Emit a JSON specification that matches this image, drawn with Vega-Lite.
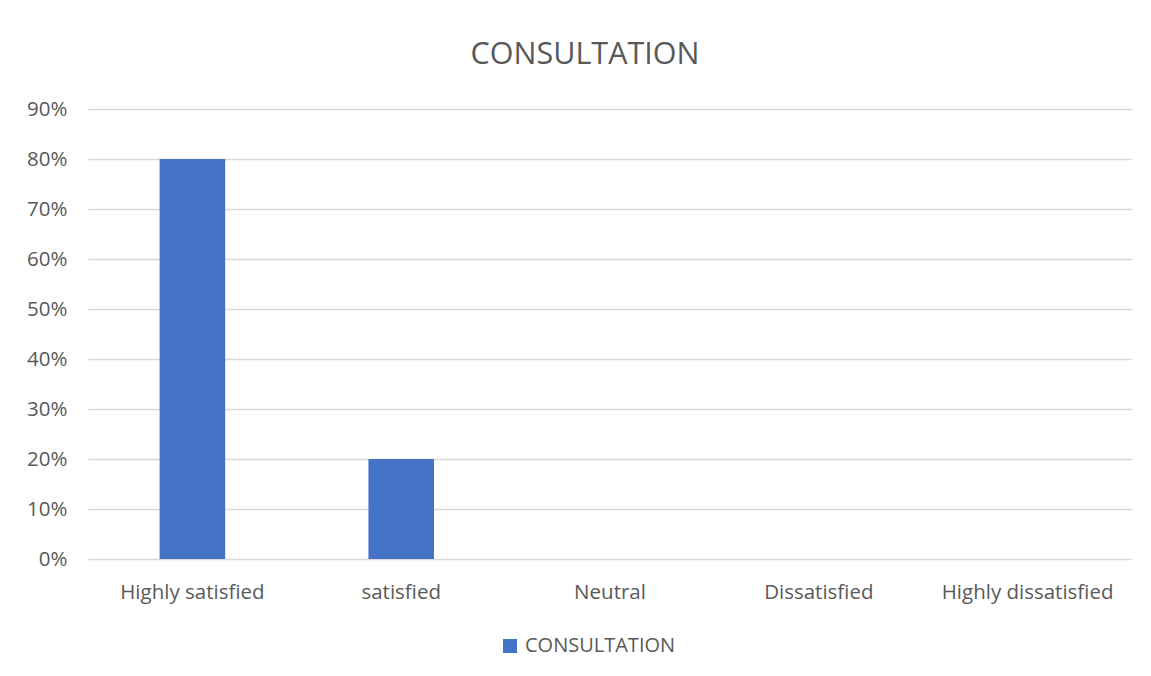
{
  "$schema": "https://vega.github.io/schema/vega-lite/v6.json",
  "autosize": "none",
  "width": 1044,
  "height": 450,
  "padding": {"left": 88, "top": 109, "right": 19, "bottom": 117},
  "background": "white",
  "title": {
    "text": "CONSULTATION",
    "font": "Open Sans",
    "fontSize": 30.5,
    "fontWeight": "normal",
    "color": "#595959",
    "anchor": "middle",
    "dx": -25,
    "offset": 29
  },
  "data": {
    "values": [
      {"rating": "Highly satisfied", "share": 0.8, "series": "CONSULTATION"},
      {"rating": "satisfied", "share": 0.2, "series": "CONSULTATION"},
      {"rating": "Neutral", "share": 0, "series": "CONSULTATION"},
      {"rating": "Dissatisfied", "share": 0, "series": "CONSULTATION"},
      {"rating": "Highly dissatisfied", "share": 0, "series": "CONSULTATION"}
    ]
  },
  "mark": {"type": "bar"},
  "encoding": {
    "x": {
      "field": "rating",
      "type": "nominal",
      "sort": null,
      "title": null,
      "scale": {"paddingInner": 0.686, "paddingOuter": 0.343},
      "axis": {
        "labelAngle": 0,
        "labelFont": "Open Sans",
        "labelFontSize": 20.5,
        "labelColor": "#595959",
        "labelPadding": 23,
        "ticks": false,
        "domain": false,
        "grid": false
      }
    },
    "y": {
      "field": "share",
      "type": "quantitative",
      "title": null,
      "scale": {"domain": [0, 0.9], "nice": false},
      "axis": {
        "format": ".0%",
        "values": [0, 0.1, 0.2, 0.3, 0.4, 0.5, 0.6, 0.7, 0.8, 0.9],
        "labelFont": "Open Sans",
        "labelFontSize": 20.5,
        "labelColor": "#595959",
        "labelPadding": 21,
        "ticks": false,
        "domain": false,
        "grid": true,
        "gridColor": "#d9d9d9",
        "gridWidth": 1.5
      }
    },
    "color": {
      "field": "series",
      "type": "nominal",
      "scale": {"range": ["#4472c4"]},
      "legend": {
        "title": null,
        "orient": "none",
        "legendX": 412,
        "legendY": 527,
        "symbolType": "square",
        "symbolSize": 196,
        "symbolStrokeWidth": 0,
        "labelFont": "Open Sans",
        "labelFontSize": 20,
        "labelColor": "#595959",
        "labelOffset": 5
      }
    }
  },
  "config": {
    "view": {"stroke": null}
  }
}
